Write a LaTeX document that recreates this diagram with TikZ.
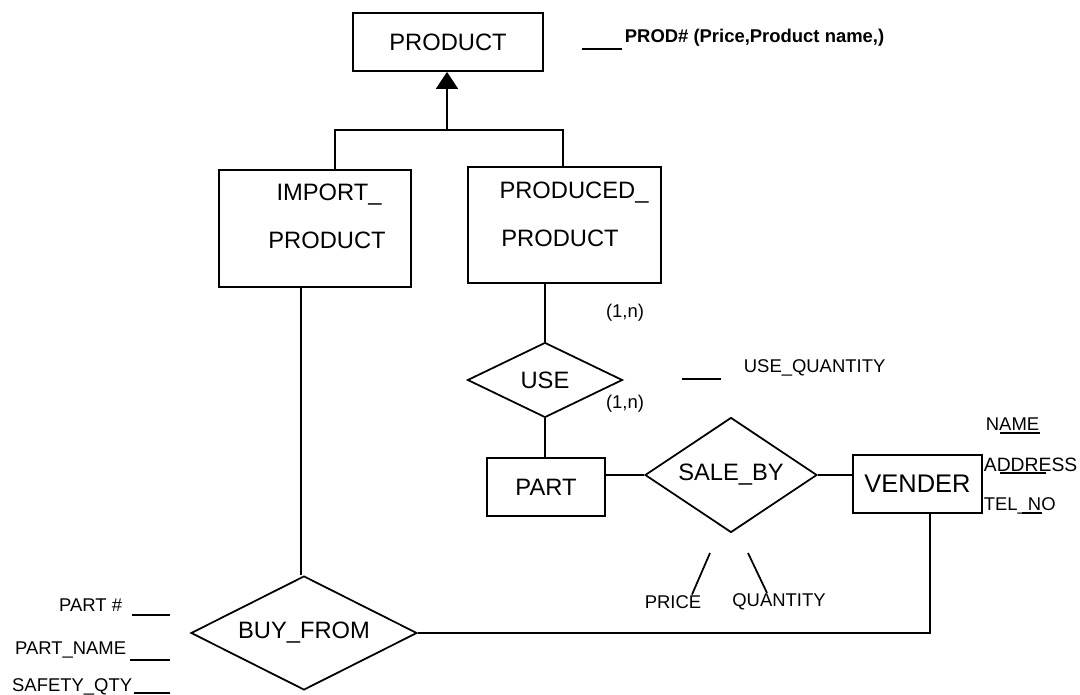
\documentclass[tikz,border=0pt]{standalone}
\usepackage{fontspec}
\setmainfont{Liberation Sans}
\usetikzlibrary{shapes.geometric,arrows.meta}

\begin{document}
\begin{tikzpicture}
		[x=0.02cm, y=-0.02cm, line width=1pt,
		big/.style={font=\fontsize{13.5}{16}\selectfont},
		sml/.style={font=\fontsize{10.5}{12}\selectfont},
		ent/.style={draw, rectangle, inner sep=0pt, big},
		rel/.style={draw, diamond, inner sep=0pt, big},
		lbl/.style={inner sep=0pt, sml}]

		\useasboundingbox (0,0) rectangle (1080,695);

		% entities
		\node[ent, minimum width=3.8cm, minimum height=1.16cm] (prod) at (448,42) {PRODUCT};
		\node[ent, minimum width=3.84cm, minimum height=2.34cm] (imp) at (315,228.5) {};
		\node[ent, minimum width=3.86cm, minimum height=2.32cm] (pp) at (564.5,225) {};
		\node[big, inner sep=0pt] (impa) at (329,195) {IMPORT\_};
		\node[big, inner sep=0pt] (impb) at (327,240) {PRODUCT};
		\node[big, inner sep=0pt] (ppa) at (574,193) {PRODUCED\_};
		\node[big, inner sep=0pt] (ppb) at (560,238) {PRODUCT};
		\node[ent, minimum width=2.36cm, minimum height=1.16cm] (part) at (546,487) {PART};
		\node[ent, minimum width=2.58cm, minimum height=1.16cm, font=\fontsize{14.5}{17}\selectfont] (ven) at (917.5,484) {VENDER};

		% relationships
		\node[rel, aspect=2.07, minimum width=3.1cm, minimum height=1.5cm] (use) at (545,380) {USE};
		\node[rel, aspect=1.5, minimum width=3.44cm, minimum height=2.3cm] (sb) at (731,475) {SALE\_BY};
		\node[rel, aspect=2, minimum width=4.52cm, minimum height=2.28cm] (bf) at (304,633) {BUY\_FROM};

		% is-a
		\coordinate (j) at (447,130);
		\coordinate (jl) at (335,130);
		\coordinate (jr) at (563,130);
		\draw[-{Triangle[width=0.44cm,length=0.34cm]}] (j) -- (j |- prod.south);
		\draw (jl |- imp.north) -- (jl) -- (jr) -- (jr |- pp.north);

		% links
		\draw (pp.south -| use.north) -- (use.north);
		\draw (use.south) -- (use.south |- part.north);
		\draw (part.east |- sb.west) -- (sb.west);
		\draw (sb.east) -- (ven.west |- sb.east);
		\coordinate (il) at (301,0);
		\draw (il |- imp.south) -- (il |- bf.north);
		\coordinate (vl) at (930,0);
		\draw (bf.east) -| (vl |- ven.south);

		\node[lbl] (c1) at (625,313) {(1,n)};
		\node[lbl] (c2) at (625,404) {(1,n)};

		% attributes
		\node[lbl, anchor=west, font=\fontsize{10.5}{12}\selectfont\bfseries] (pkey) at (624,38) {PROD\# (Price,Product name,)};
		\coordinate (pa) at (582,49);
		\coordinate (pb) at (622,49);
		\draw (pa) -- (pb);

		\node[lbl, anchor=west] (uq) at (743,368) {USE\_QUANTITY};
		\coordinate (ua) at (682,379);
		\coordinate (ub) at (721,379);
		\draw (ua) -- (ub);

		\node[lbl, anchor=west] (vn) at (985,424) {NAME};
		\node[lbl, anchor=west, font=\fontsize{11}{12}\selectfont] (va) at (983,465) {ADDRESS};
		\node[lbl, anchor=west] (vt) at (983,506) {TEL\_NO};
		\draw[line width=0.8pt] (1000,433) -- (1040,433);
		\draw[line width=0.8pt] (1000,473) -- (1046,473);
		\draw[line width=0.8pt] (1022,513) -- (1042,513);

		\node[lbl] (pr) at (673,602) {PRICE};
		\node[lbl] (qt) at (779,602) {QUANTITY};
		\coordinate (s1) at (710,553);
		\coordinate (s2) at (748,553);
		\coordinate (e1) at (692,0);
		\coordinate (e2) at (767,0);
		\draw (s1) -- (e1 |- pr.north);
		\draw (s2) -- (e2 |- qt.north);

		\node[lbl, anchor=east] (k1) at (123,605) {PART \#};
		\node[lbl, anchor=east] (k2) at (127,650) {PART\_NAME};
		\node[lbl, anchor=east] (k3) at (133,687) {SAFETY\_QTY};
		\draw (132,615) -- (170,615);
		\draw (130,660) -- (170,660);
		\draw (134,693) -- (170,693);

	\end{tikzpicture}
\end{document}
